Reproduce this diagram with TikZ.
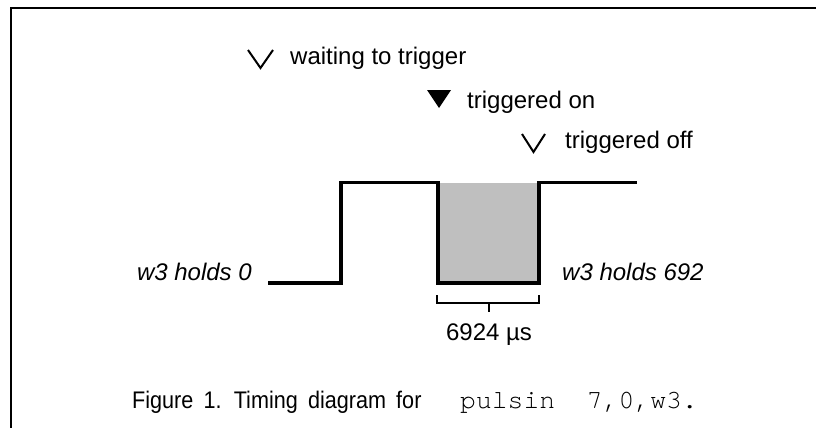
\documentclass[tikz,border=0pt]{standalone}
\usepackage{fontspec}
\setmainfont{Liberation Sans}
\newfontfamily\capfont[FakeStretch=0.9,WordSpace=1.7]{Liberation Sans}
\newfontfamily\codefont{texgyrecursor-regular.otf}
\begin{document}
\begin{tikzpicture}[x=1pt,y=-1pt,
  lbl/.style={anchor=base west,inner sep=0pt,font=\fontsize{24}{28}\selectfont},
  ilbl/.style={inner sep=0pt,font=\fontsize{24}{28}\selectfont\itshape},
  wave/.style={line width=3.2pt,line join=miter,line cap=butt},
  frame/.style={line width=2.7pt},
  thin/.style={line width=1.3pt},
  vmark/.style={line width=2pt,line join=miter}]
\useasboundingbox (0,0) rectangle (816,428);
% frame
\draw[frame] (816,8) -- (11,8) -- (11,428);
% legend marks
\draw[vmark] (248,50) -- (260.5,68) -- (273,50);
\fill (427,90) -- (451,90) -- (439,108) -- cycle;
\draw[vmark] (522,134) -- (533.5,152) -- (545,134);
\node[lbl] (wait) at (290,65) {waiting to trigger};
\node[lbl] (on) at (467,108) {triggered on};
\node[lbl] (off) at (565,148) {triggered off};
% waveform
\coordinate (a) at (268,283);
\coordinate (b) at (341,283);
\coordinate (c) at (341,182.5);
\coordinate (d) at (438,182.5);
\coordinate (e) at (438,283);
\coordinate (f) at (539,283);
\coordinate (g) at (539,182.5);
\coordinate (h) at (637,182.5);
\fill[black!25] (d) rectangle (f);
\draw[wave] (a) -- (b) -- (c) -- (d) -- (e) -- (f) -- (g) -- (h);
% bracket
\coordinate (bl) at (437,295);
\coordinate (br) at (539,295);
\coordinate (bm) at (489,303);
\draw[thin] (bl) -- (437,303) -- (539,303) -- (br);
\draw[thin] (bm) -- (489,312);
\node[lbl,anchor=base] (dur) at (489,340) {6924 \textmu s};
% state labels
\node[ilbl,anchor=base east] (hold0) at (252,280) {w3 holds 0};
\node[ilbl,anchor=base west] (hold1) at (562,280) {w3 holds 692};
% caption
\node[anchor=base west,inner sep=0pt,font=\fontsize{24}{28}\capfont] (cap) at (132,408) {Figure 1. Timing diagram for};
\node[anchor=base west,inner sep=0pt,font=\fontsize{26.4}{30}\codefont] (code) at (460,408) {pulsin\ \ 7,0,w3.};
\end{tikzpicture}
\end{document}
